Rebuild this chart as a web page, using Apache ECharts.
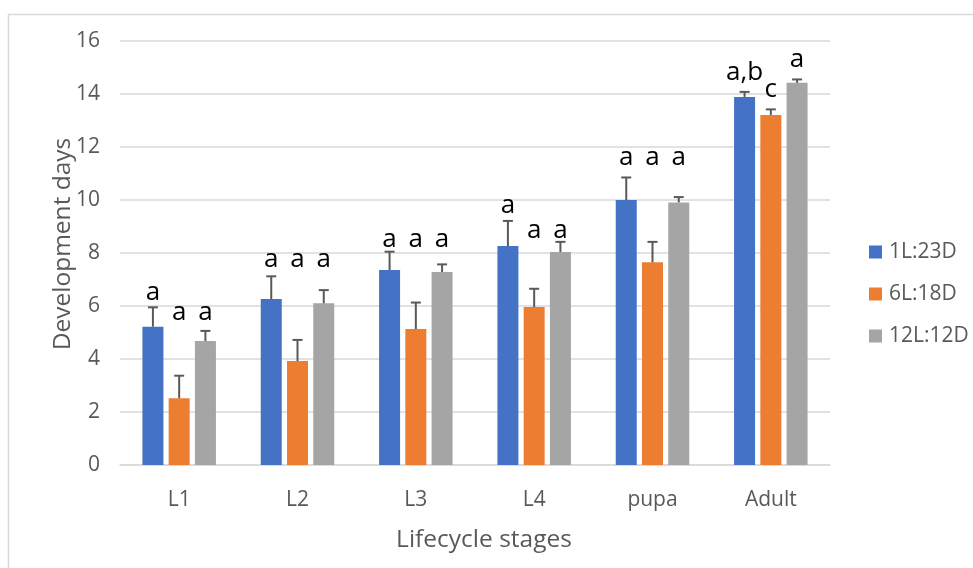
<!DOCTYPE html>
<html>
<head>
<meta charset="utf-8">
<script src="https://cdn.jsdelivr.net/npm/echarts@6/dist/echarts.min.js"></script>
<style>html,body{margin:0;padding:0;background:#fff}#c{width:973px;height:568px}</style>
</head>
<body>
<div id="c"></div>
<script>
const categories = ['L1', 'L2', 'L3', 'L4', 'pupa', 'Adult'];
const seriesNames = ['1L:23D', '6L:18D', '12L:12D'];
const mean1L23D = [5.22, 6.26, 7.36, 8.26, 10.0, 13.89];
const mean6L18D = [2.52, 3.92, 5.13, 5.96, 7.65, 13.21];
const mean12L12D = [4.68, 6.10, 7.28, 8.04, 9.91, 14.42];
const err1L23D = [0.73, 0.86, 0.69, 0.95, 0.85, 0.19];
const err6L18D = [0.85, 0.80, 1.00, 0.69, 0.77, 0.21];
const err12L12D = [0.38, 0.50, 0.29, 0.38, 0.20, 0.13];
const letters1L23D = ['a', 'a', 'a', 'a', 'a', 'a,b'];
const letters6L18D = ['a', 'a', 'a', 'a', 'a', 'c'];
const letters12L12D = ['a', 'a', 'a', 'a', 'a', 'a'];
const letterY1L23D = [6.5, 7.75, 8.5, 9.8, 11.6, 14.8];
const letterY6L18D = [5.75, 7.75, 8.5, 8.85, 11.6, 14.15];
const letterY12L12D = [5.75, 7.75, 8.5, 8.85, 11.6, 15.3];
const yTicks = { min: 0, max: 16, interval: 2 };

const colors = ['#4472C4', '#ED7D31', '#A5A5A5'];
const means = [mean1L23D, mean6L18D, mean12L12D];
const errs = [err1L23D, err6L18D, err12L12D];
const letters = [letters1L23D, letters6L18D, letters12L12D];
const letterYs = [letterY1L23D, letterY6L18D, letterY12L12D];
const BAR_W = 21, BAR_GAP = 5.25;
const FONT = '"Open Sans", sans-serif';

const chart = echarts.init(document.getElementById('c'));
const series = [];
means.forEach((m, s) => {
  series.push({
    name: seriesNames[s], type: 'bar', data: m, barWidth: BAR_W, barGap: '25%',
    itemStyle: { color: colors[s] }, silent: true, z: 2
  });
});
means.forEach((m, s) => {
  const offset = (s - 1) * (BAR_W + BAR_GAP);
  series.push({
    type: 'custom', silent: true, z: 5,
    data: m.map((v, i) => [i, v, v + errs[s][i]]),
    renderItem: (params, api) => {
      const lo = api.coord([api.value(0), api.value(1)]);
      const hi = api.coord([api.value(0), api.value(2)]);
      const x = lo[0] + offset;
      const st = { stroke: '#595959', lineWidth: 2 };
      return { type: 'group', children: [
        { type: 'line', shape: { x1: x, y1: lo[1], x2: x, y2: hi[1] }, style: st },
        { type: 'line', shape: { x1: x - 5, y1: hi[1], x2: x + 5, y2: hi[1] }, style: st }
      ]};
    }
  });
  series.push({
    type: 'custom', silent: true, z: 6,
    data: letterYs[s].map((v, i) => [i, v]),
    renderItem: (params, api) => {
      const p = api.coord([api.value(0), api.value(1)]);
      return { type: 'text', x: p[0] + offset, y: p[1],
        style: { text: letters[s][params.dataIndex], fill: '#000', font: '26px ' + FONT,
          align: 'center', verticalAlign: 'middle' } };
    }
  });
});

chart.setOption({
  animation: false,
  grid: { left: 120, right: 143, top: 41, bottom: 103, containLabel: false },
  graphic: [
    { type: 'rect', shape: { x: 8.5, y: 14.5, width: 1000, height: 600 },
      style: { fill: 'none', stroke: '#D9D9D9', lineWidth: 1.5 }, silent: true },
    { type: 'text', x: 63, y: 244, rotation: Math.PI / 2,
      style: { text: 'Development days', fill: '#595959', font: '24.5px ' + FONT,
        align: 'center', verticalAlign: 'middle' } }
  ],
  legend: {
    orient: 'vertical', left: 869, top: 231, itemWidth: 13, itemHeight: 13, itemGap: 0,
    padding: 0, icon: 'rect', data: seriesNames,
    textStyle: { color: '#595959', fontSize: 21, fontFamily: 'Open Sans', lineHeight: 24, padding: [18, 0, 0, 2] }
  },
  xAxis: {
    type: 'category', data: categories,
    axisLine: { lineStyle: { color: '#D9D9D9', width: 1.5 } },
    axisTick: { show: false },
    axisLabel: { color: '#595959', fontSize: 21, fontFamily: 'Open Sans', margin: 25 },
    name: 'Lifecycle stages', nameLocation: 'middle', nameGap: 63,
    nameTextStyle: { color: '#595959', fontSize: 24.5, fontFamily: 'Open Sans', padding: [0, 0, 0, 18] }
  },
  yAxis: {
    type: 'value', min: yTicks.min, max: yTicks.max, interval: yTicks.interval,
    axisLine: { show: false }, axisTick: { show: false },
    axisLabel: { color: '#595959', fontSize: 21, fontFamily: 'Open Sans', margin: 20 },
    splitLine: { lineStyle: { color: '#D9D9D9', width: 1.5 } }
  },
  series: series
});
</script>
</body>
</html>
